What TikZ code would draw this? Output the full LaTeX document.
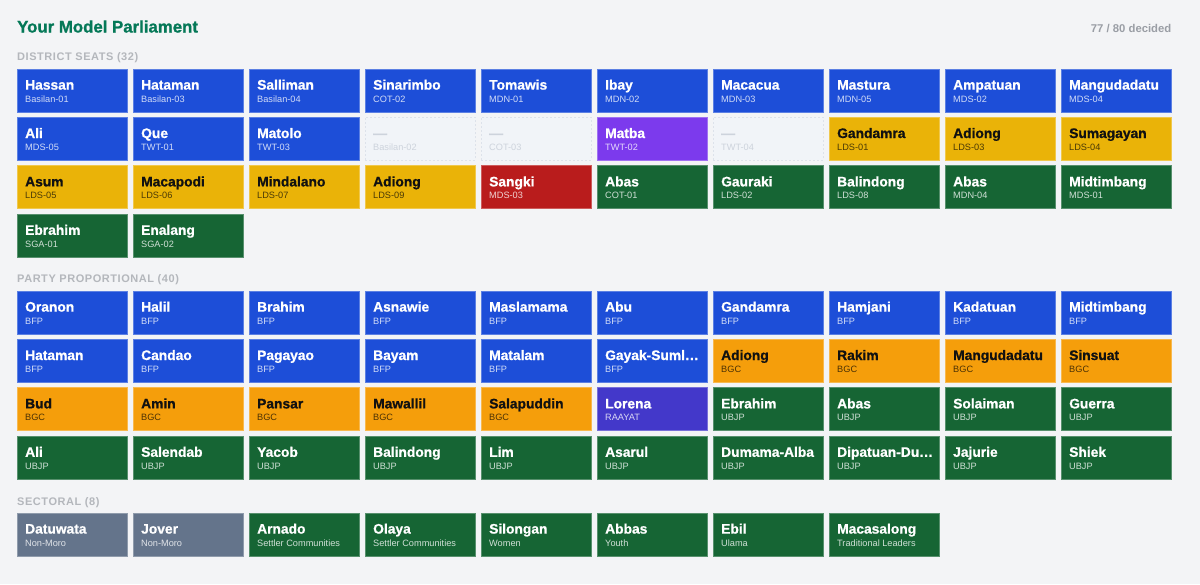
\documentclass[tikz,border=0pt]{standalone}
\usepackage{fontspec}
\setmainfont{Liberation Sans}
\newfontfamily\namefont{Liberation Sans}[UprightFont={* Bold}, FakeBold=0.9]
\newfontfamily\hdrfont{Liberation Sans}[LetterSpace=5]
\definecolor{pagebg}{HTML}{F3F4F6}
\definecolor{titlegreen}{HTML}{047857}
\definecolor{countgray}{HTML}{9A9EA5}
\definecolor{hdrgray}{HTML}{B4B7BC}
\definecolor{bl-fill}{HTML}{1D4ED8}\definecolor{bl-name}{HTML}{FFFFFF}\definecolor{bl-sub}{HTML}{D2DCF7}
\definecolor{ye-fill}{HTML}{EAB308}\definecolor{ye-name}{HTML}{111111}\definecolor{ye-sub}{HTML}{4A3A06}
\definecolor{or-fill}{HTML}{F59E0B}\definecolor{or-name}{HTML}{111111}\definecolor{or-sub}{HTML}{4C3205}
\definecolor{gr-fill}{HTML}{166534}\definecolor{gr-name}{HTML}{FFFFFF}\definecolor{gr-sub}{HTML}{D0E0D6}
\definecolor{rd-fill}{HTML}{B91C1C}\definecolor{rd-name}{HTML}{FFFFFF}\definecolor{rd-sub}{HTML}{F1D2D2}
\definecolor{pu-fill}{HTML}{7C3AED}\definecolor{pu-name}{HTML}{FFFFFF}\definecolor{pu-sub}{HTML}{E5D8FB}
\definecolor{in-fill}{HTML}{4338CA}\definecolor{in-name}{HTML}{FFFFFF}\definecolor{in-sub}{HTML}{D9D7F4}
\definecolor{sl-fill}{HTML}{64748B}\definecolor{sl-name}{HTML}{FFFFFF}\definecolor{sl-sub}{HTML}{E0E3E8}
\definecolor{em-fill}{HTML}{F1F4F8}\definecolor{em-name}{HTML}{CDD3DC}\definecolor{em-sub}{HTML}{CDD3DC}
\definecolor{em-line}{HTML}{DDE2EA}
\tikzset{
  tilebox/.style={draw=#1!72!white, fill=#1, line width=0.9pt, minimum width=110pt,
    minimum height=43pt, anchor=north west, inner sep=0pt, outer sep=0pt},
  emptybox/.style={draw=em-line, fill=em-fill, dashed, dash pattern=on 2pt off 2pt, line width=0.9pt,
    minimum width=110pt, minimum height=43pt, anchor=north west, inner sep=0pt, outer sep=0pt},
  namet/.style={anchor=base west, inner sep=0pt, font=\namefont\fontsize{13.8}{16}\selectfont},
  subt/.style={anchor=base west, inner sep=0pt, font=\fontsize{9.2}{11}\selectfont},
  hdr/.style={anchor=base west, inner sep=0pt, text=hdrgray, font=\hdrfont\bfseries\fontsize{11}{13}\selectfont},
}
\newcommand\Tile[6]{%
  \pgfmathsetmacro\tx{17.4+116*#2}%
  \ifnum\pdfstrcmp{#4}{em}=0
    \node[emptybox] (#1) at (\tx,#3) {};
  \else
    \node[tilebox=#4-fill] (#1) at (\tx,#3) {};
  \fi
  \node[namet, text=#4-name] (#1-n) at ([xshift=7.6pt,yshift=-20.6pt]#1.north west) {#5};
  \node[subt, text=#4-sub] (#1-s) at ([xshift=7.6pt,yshift=-33pt]#1.north west) {#6};
}
\begin{document}
\begin{tikzpicture}[x=1pt,y=-1pt]
\useasboundingbox (0,0) rectangle (1200,584);
\fill[pagebg] (0,0) rectangle (1200,584);
\node[anchor=base west, inner sep=0pt, text=titlegreen, font=\namefont\fontsize{16.8}{19}\selectfont] (title) at (17,32.5) {Your Model Parliament};
\node[anchor=base east, inner sep=0pt, text=countgray, font=\bfseries\fontsize{11.3}{13}\selectfont] (count) at (1171.5,32.6) {77 / 80 decided};
\node[hdr] (hd) at (17,60) {DISTRICT SEATS (32)};
\node[hdr] (hp) at (17,282.3) {PARTY PROPORTIONAL (40)};
\node[hdr] (hs) at (17,505) {SECTORAL (8)};
% District seats
\foreach \n/\s/\k [count=\i from 0] in {Hassan/Basilan-01/bl, Hataman/Basilan-03/bl, Salliman/Basilan-04/bl, Sinarimbo/COT-02/bl, Tomawis/MDN-01/bl, Ibay/MDN-02/bl, Macacua/MDN-03/bl, Mastura/MDN-05/bl, Ampatuan/MDS-02/bl, Mangudadatu/MDS-04/bl}
  {\Tile{d1-\i}{\i}{69}{\k}{\n}{\s}}
\foreach \n/\s/\k [count=\i from 0] in {Ali/MDS-05/bl, Que/TWT-01/bl, Matolo/TWT-03/bl, —/Basilan-02/em, —/COT-03/em, Matba/TWT-02/pu, —/TWT-04/em, Gandamra/LDS-01/ye, Adiong/LDS-03/ye, Sumagayan/LDS-04/ye}
  {\Tile{d2-\i}{\i}{117.4}{\k}{\n}{\s}}
\foreach \n/\s/\k [count=\i from 0] in {Asum/LDS-05/ye, Macapodi/LDS-06/ye, Mindalano/LDS-07/ye, Adiong/LDS-09/ye, Sangki/MDS-03/rd, Abas/COT-01/gr, Gauraki/LDS-02/gr, Balindong/LDS-08/gr, Abas/MDN-04/gr, Midtimbang/MDS-01/gr}
  {\Tile{d3-\i}{\i}{165.8}{\k}{\n}{\s}}
\foreach \n/\s/\k [count=\i from 0] in {Ebrahim/SGA-01/gr, Enalang/SGA-02/gr}
  {\Tile{d4-\i}{\i}{214.2}{\k}{\n}{\s}}
% Party proportional
\foreach \n/\s/\k [count=\i from 0] in {Oranon/BFP/bl, Halil/BFP/bl, Brahim/BFP/bl, Asnawie/BFP/bl, Maslamama/BFP/bl, Abu/BFP/bl, Gandamra/BFP/bl, Hamjani/BFP/bl, Kadatuan/BFP/bl, Midtimbang/BFP/bl}
  {\Tile{p1-\i}{\i}{291}{\k}{\n}{\s}}
\foreach \n/\s/\k [count=\i from 0] in {Hataman/BFP/bl, Candao/BFP/bl, Pagayao/BFP/bl, Bayam/BFP/bl, Matalam/BFP/bl, Gayak-Suml…/BFP/bl, Adiong/BGC/or, Rakim/BGC/or, Mangudadatu/BGC/or, Sinsuat/BGC/or}
  {\Tile{p2-\i}{\i}{339.4}{\k}{\n}{\s}}
\foreach \n/\s/\k [count=\i from 0] in {Bud/BGC/or, Amin/BGC/or, Pansar/BGC/or, Mawallil/BGC/or, Salapuddin/BGC/or, Lorena/RAAYAT/in, Ebrahim/UBJP/gr, Abas/UBJP/gr, Solaiman/UBJP/gr, Guerra/UBJP/gr}
  {\Tile{p3-\i}{\i}{387.8}{\k}{\n}{\s}}
\foreach \n/\s/\k [count=\i from 0] in {Ali/UBJP/gr, Salendab/UBJP/gr, Yacob/UBJP/gr, Balindong/UBJP/gr, Lim/UBJP/gr, Asarul/UBJP/gr, Dumama-Alba/UBJP/gr, Dipatuan-Du…/UBJP/gr, Jajurie/UBJP/gr, Shiek/UBJP/gr}
  {\Tile{p4-\i}{\i}{436.2}{\k}{\n}{\s}}
% Sectoral
\foreach \n/\s/\k [count=\i from 0] in {Datuwata/Non-Moro/sl, Jover/Non-Moro/sl, Arnado/Settler Communities/gr, Olaya/Settler Communities/gr, Silongan/Women/gr, Abbas/Youth/gr, Ebil/Ulama/gr, Macasalong/Traditional Leaders/gr}
  {\Tile{s1-\i}{\i}{513}{\k}{\n}{\s}}
\end{tikzpicture}
\end{document}
